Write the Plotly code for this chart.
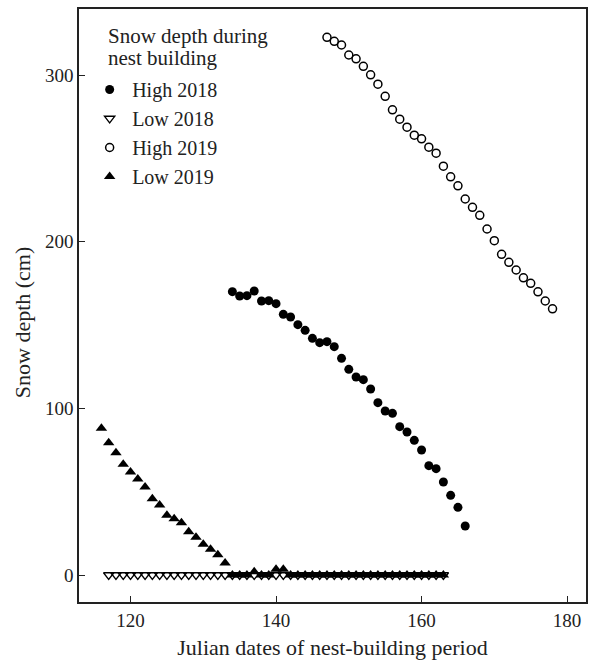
import plotly.graph_objects as go

# High 2018 (filled circles)
high2018_days = list(range(134, 167))
high2018_depth = [170.0, 167.4, 167.6, 170.4, 164.4, 164.6, 162.8, 156.4, 154.8, 150.2,
                  146.8, 142.0, 139.4, 140.0, 137.0, 130.0, 123.4, 118.8, 117.2, 111.6,
                  103.4, 98.4, 97.0, 89.0, 85.8, 80.8, 75.0, 65.6, 63.8, 55.8,
                  47.8, 40.6, 29.4]

# Low 2018 (open inverted triangles)
low2018_days = list(range(117, 164))
low2018_depth = [0] * len(low2018_days)

# High 2019 (open circles)
high2019_days = list(range(147, 179))
high2019_depth = [322.6, 320.2, 318.0, 312.0, 309.7, 305.2, 300.1, 294.5, 287.2, 279.1,
                  273.5, 268.7, 263.9, 261.7, 256.7, 253.1, 245.3, 238.9, 233.5, 225.6,
                  220.6, 215.8, 207.6, 200.6, 192.4, 187.6, 183.0, 178.3, 175.0, 169.9,
                  164.4, 159.7]

# Low 2019 (filled triangles)
low2019_days = list(range(116, 164))
low2019_depth = [88.0, 79.4, 73.4, 66.4, 61.8, 57.6, 52.8, 45.8, 42.0, 35.8,
                 33.8, 31.4, 26.0, 22.6, 18.4, 15.4, 12.2, 7.2,
                 0, 0, 0, 2, 0, 0, 3.5, 3.5, 0, 0, 0, 0,
                 0, 0, 0, 0, 0, 0, 0, 0, 0, 0,
                 0, 0, 0, 0, 0, 0, 0, 0]

x_ticks = [120, 140, 160, 180]
y_ticks = [0, 100, 200, 300]
legend_title_lines = ["Snow depth during", "nest building"]

FONT = "Liberation Serif"
INK = "#222"

fig = go.Figure()
fig.add_trace(go.Scatter(x=high2018_days, y=high2018_depth, mode="markers", name="High 2018",
                         marker=dict(symbol="circle", size=9, color="black", line=dict(width=0))))
fig.add_trace(go.Scatter(x=low2018_days, y=low2018_depth, mode="markers", name="Low 2018",
                         marker=dict(symbol="triangle-down-open", size=9, color="black",
                                     line=dict(width=1.3))))
fig.add_trace(go.Scatter(x=high2019_days, y=high2019_depth, mode="markers", name="High 2019",
                         marker=dict(symbol="circle-open", size=8, color="black",
                                     line=dict(width=1.5))))
fig.add_trace(go.Scatter(x=low2019_days, y=low2019_depth, mode="markers", name="Low 2019",
                         marker=dict(symbol="triangle-up", size=10, color="black", line=dict(width=0))))

axis_common = dict(showline=True, linecolor=INK, linewidth=1.5, mirror=True,
                   ticks="inside", ticklen=6, tickwidth=1, tickcolor=INK,
                   showgrid=False, zeroline=False,
                   tickfont=dict(family=FONT, size=19, color=INK))

# legend title as two text lines (paper coords)
for i, line in enumerate(legend_title_lines):
    fig.add_annotation(text=line, xref="paper", yref="paper",
                       x=(106 - 79) / 509, y=1 - (36 + 22 * i - 9) / 593,
                       xanchor="left", yanchor="middle", showarrow=False,
                       font=dict(family=FONT, size=21, color=INK))

# y-axis title
fig.add_annotation(text="Snow depth (cm)", xref="paper", yref="paper",
                   x=(22 - 79) / 509, y=1 - (322 - 9) / 593,
                   xanchor="center", yanchor="middle", textangle=-90, showarrow=False,
                   font=dict(family=FONT, size=22, color=INK))

fig.update_layout(
    width=592, height=663,
    margin=dict(l=79, r=4, t=9, b=61),
    paper_bgcolor="white", plot_bgcolor="white",
    font=dict(family=FONT, size=19, color=INK),
    showlegend=True,
    legend=dict(x=(0.02 * 509 - 2) / 509, y=1 - (70 - 9) / 593, xanchor="left", yanchor="top",
                bgcolor="rgba(0,0,0,0)",
                font=dict(family=FONT, size=20, color=INK),
                itemwidth=35),
    xaxis=dict(range=[112.92, 182.6], tickvals=x_ticks,
               title=dict(text="Julian dates of nest-building period", standoff=10,
                          font=dict(family=FONT, size=22, color=INK)),
               **axis_common),
    yaxis=dict(range=[-16.2, 339.6], tickvals=y_ticks,
               **axis_common),
)

fig.write_html("out.html")
